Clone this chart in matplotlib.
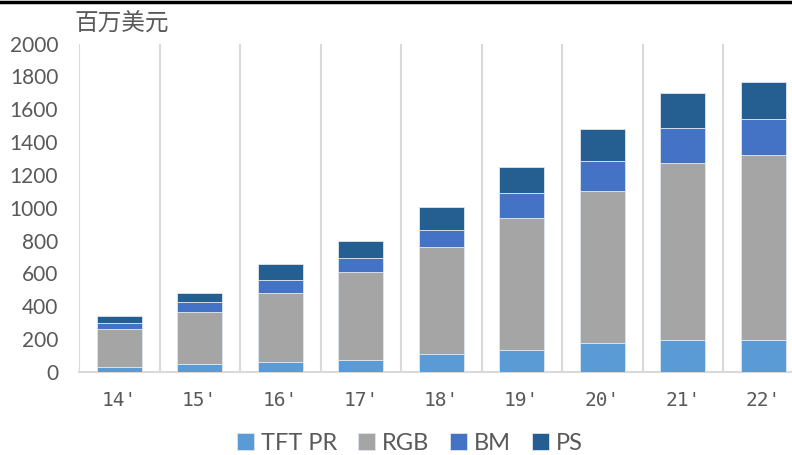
import matplotlib
matplotlib.use("Agg")
import matplotlib.pyplot as plt
from matplotlib.lines import Line2D
import numpy as np

plt.rcParams['font.family'] = ['Lato', 'Noto Sans CJK SC', 'DejaVu Sans']

categories = ["14'", "15'", "16'", "17'", "18'", "19'", "20'", "21'", "22'"]
tft_pr = [32, 46, 60, 72, 107, 132, 176, 196, 196]
rgb = [229, 321, 421, 537, 652, 803, 925, 1075, 1124]
bm = [37, 57, 81, 87, 106, 152, 183, 214, 220]
ps = [40, 55, 95, 102, 140, 164, 197, 215, 225]
series_names = ["TFT PR", "RGB", "BM", "PS"]
colors = ["#5B9BD5", "#A5A5A5", "#4472C4", "#255E91"]
unit_label = "百万美元"

fig = plt.figure(figsize=(7.92, 4.55), dpi=100)
ax = fig.add_axes([79/792, 83/455, 724.5/792, 328.5/455])

x = np.arange(len(categories))
bottom = np.zeros(len(categories))
handles = []
for name, vals, c in zip(series_names, [tft_pr, rgb, bm, ps], colors):
    b = ax.bar(x, vals, width=0.56, bottom=bottom, color=c, label=name,
               edgecolor='#dfe6ee', linewidth=0.6, zorder=3)
    handles.append(b)
    bottom += np.array(vals)

ax.set_xlim(-0.5, len(categories) - 0.5)
ax.set_ylim(0, 2000)
ax.set_yticks(np.arange(0, 2001, 200))
ax.set_xticks(x)
ax.set_xticklabels(categories, family=['DejaVu Sans Mono'])
ax.set_xticks(np.arange(-0.5, len(categories), 1.0), minor=True)
ax.grid(False)
ax.grid(which='minor', axis='x', color='#d9d9d9', linewidth=1.5, zorder=0)
ax.tick_params(axis='y', length=0, pad=15, labelsize=15, labelcolor='#595959')
ax.tick_params(axis='x', which='major', length=0, pad=14, labelsize=14, labelcolor='#595959')
ax.tick_params(axis='x', which='minor', length=0)
for s in ['top', 'right', 'left']:
    ax.spines[s].set_visible(False)
ax.spines['bottom'].set_color('#d9d9d9')
ax.spines['bottom'].set_linewidth(1.5)

fig.text(74/792, 1 - 24/455, unit_label, fontsize=17, color='#595959',
         va='center', ha='left', family=['Noto Sans CJK SC', 'DejaVu Sans'])

fig.legend(handles=handles, labels=series_names, loc='center', ncol=4,
           bbox_to_anchor=(410/792, 1 - 443/455), frameon=False,
           fontsize=17, labelcolor='#595959', handlelength=0.7, handleheight=0.7,
           handletextpad=0.3, columnspacing=0.9)

fig.add_artist(Line2D([0, 1], [1 - 1.5/455, 1 - 1.5/455], color='black',
                      linewidth=2.5, transform=fig.transFigure))

fig.savefig("out.png", dpi=100)
